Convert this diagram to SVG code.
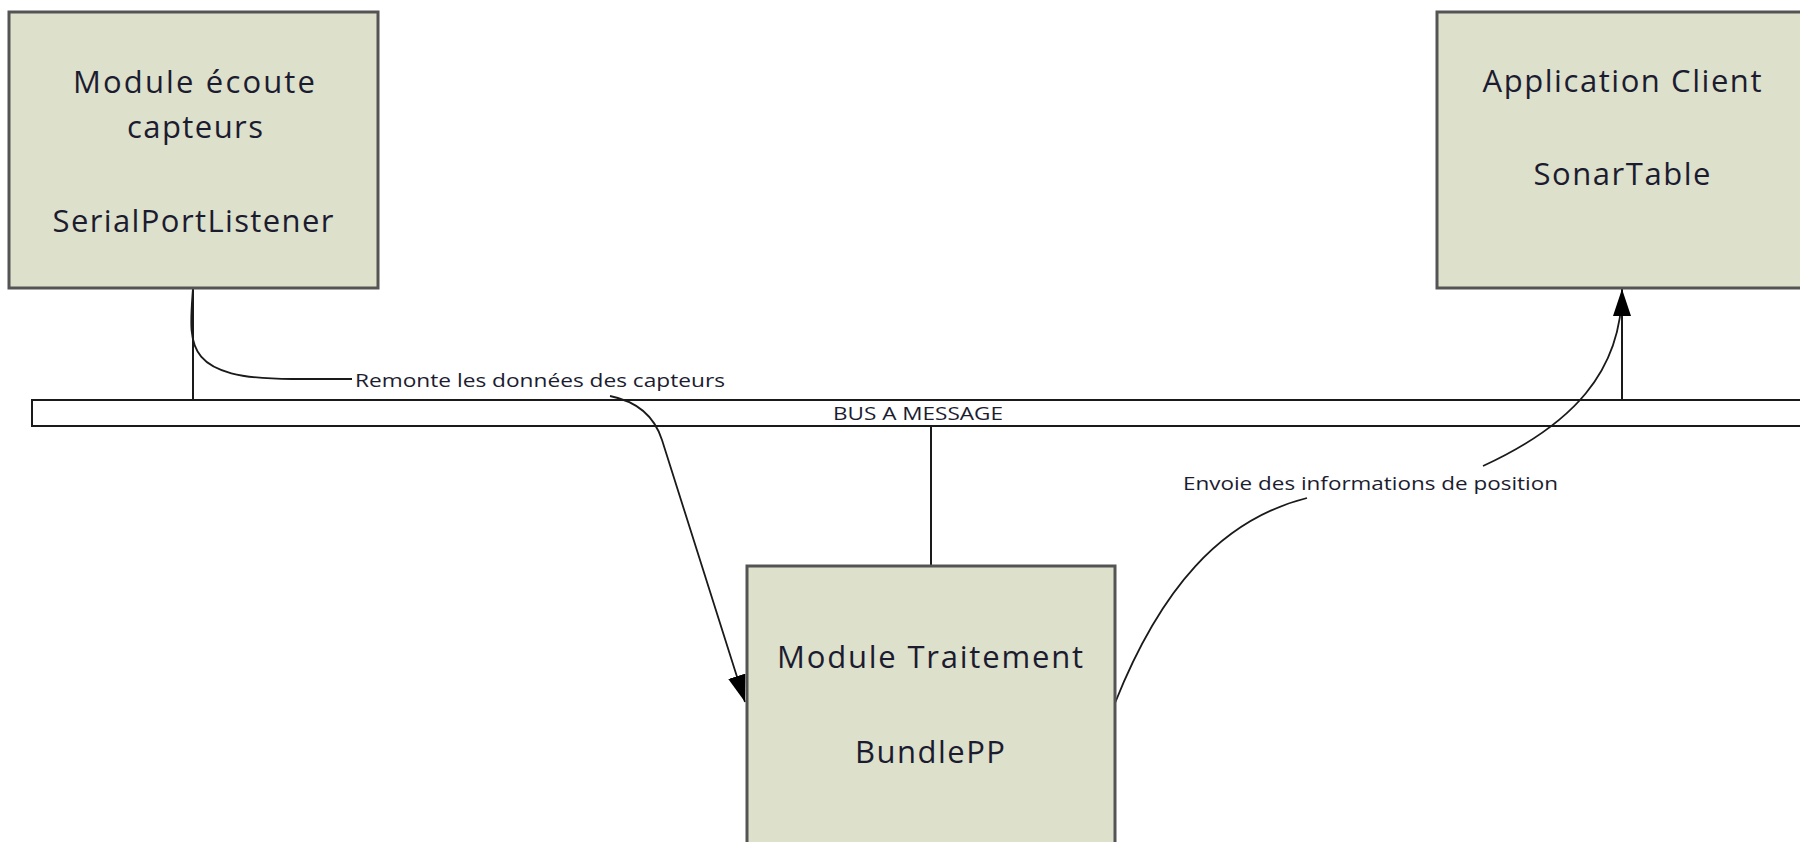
<svg xmlns="http://www.w3.org/2000/svg" width="1800" height="842" viewBox="0 0 1800 842">
<style>
.box{fill:#dde0cb;stroke:#545454;stroke-width:3}
.bus{fill:#ffffff;stroke:#1a1a1a;stroke-width:2}
.t{font-family:"Open Sans",Lato,"Liberation Sans",sans-serif;font-size:31px;fill:#1c1c30;text-anchor:middle}
.lbl{font-family:"Open Sans",Lato,"Liberation Sans",sans-serif;font-size:19px;fill:#1c1c30}
.line{fill:none;stroke:#1a1a1a;stroke-width:2}
.curve{fill:none;stroke:#1a1a1a;stroke-width:1.8}
</style>
<defs>
<marker id="arr" markerWidth="28" markerHeight="18" refX="27" refY="9" orient="auto" markerUnits="userSpaceOnUse">
<path d="M0,0 L27,9 L0,18 z" fill="#000"/>
</marker>
</defs>
<rect width="1800" height="842" fill="#ffffff"/>
<g id="bus">
<rect class="bus" x="32" y="400" width="1790" height="26"/>
<text class="lbl" x="833" y="420" textLength="170" lengthAdjust="spacingAndGlyphs">BUS A MESSAGE</text>
</g>
<g id="connectors">
<line class="line" x1="193" y1="288" x2="193" y2="400"/>
<line class="line" x1="931" y1="426" x2="931" y2="566"/>
<line class="line" x1="1622" y1="288" x2="1622" y2="400"/>
<path class="curve" d="M193,288 C189,345 182,379 292,379 L352,379"/>
<path class="curve" d="M610,396 C640,402 655,418 662,440 L745,702" marker-end="url(#arr)"/>
<path class="curve" d="M1115,703 C1160,590 1220,520 1307,498"/>
<path class="curve" d="M1483,466 C1572,425 1622,372 1622,289" marker-end="url(#arr)"/>
<text class="lbl" x="355" y="387" textLength="370" lengthAdjust="spacingAndGlyphs">Remonte les données des capteurs</text>
<text class="lbl" x="1183" y="490" textLength="375" lengthAdjust="spacingAndGlyphs">Envoie des informations de position</text>
</g>
<g id="node-serial">
<rect class="box" x="9" y="12" width="369" height="276"/>
<text class="t" x="194" y="93" textLength="242">Module écoute</text>
<text class="t" x="195" y="138" textLength="136">capteurs</text>
<text class="t" x="193" y="232" textLength="281">SerialPortListener</text>
</g>
<g id="node-client">
<rect class="box" x="1437" y="12" width="372" height="276"/>
<text class="t" x="1622" y="92" textLength="279">Application Client</text>
<text class="t" x="1622" y="185" textLength="177">SonarTable</text>
</g>
<g id="node-traitement">
<rect class="box" x="747" y="566" width="368" height="290"/>
<text class="t" x="930" y="668" textLength="306">Module Traitement</text>
<text class="t" x="930" y="763" textLength="150">BundlePP</text>
</g>
</svg>
